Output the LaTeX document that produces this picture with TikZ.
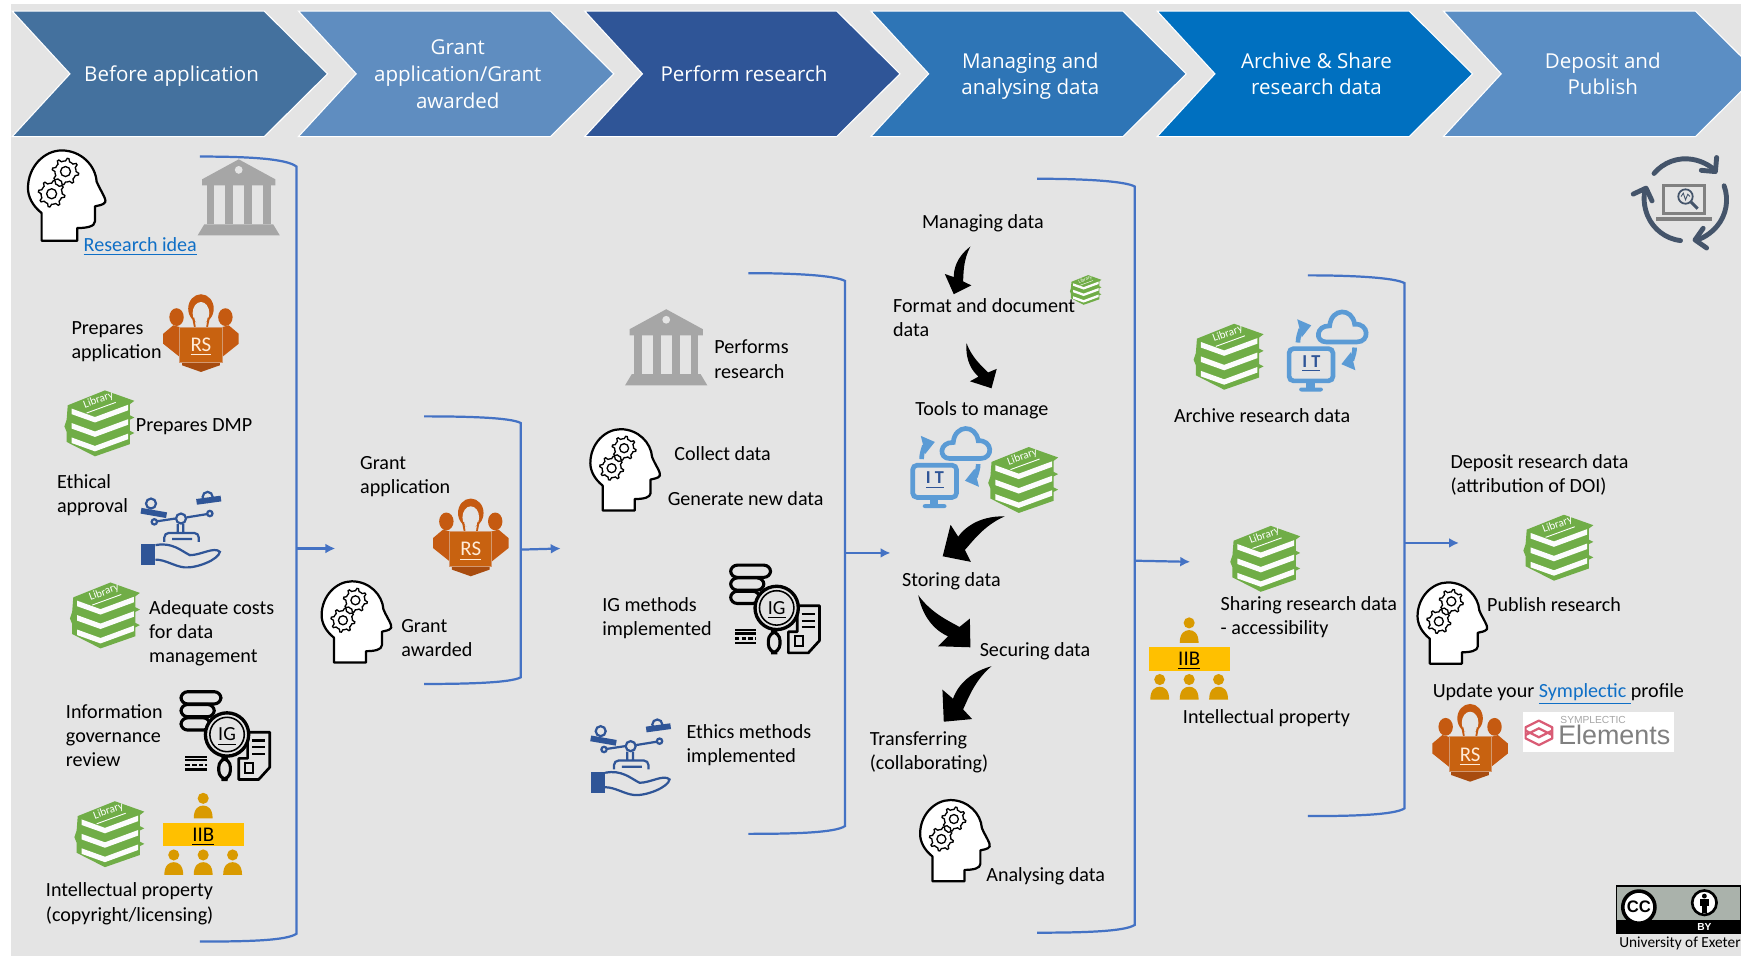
\documentclass[tikz,border=0pt]{standalone}
\usepackage{fontspec}
\setmainfont{Carlito}
\newfontfamily\headfont{Open Sans}
\newfontfamily\logofont{Liberation Sans}
\usetikzlibrary{arrows.meta,calc}

\definecolor{panelgray}{HTML}{E4E4E4}
\definecolor{chevA}{HTML}{44719E}
\definecolor{chevB}{HTML}{5F8DC0}
\definecolor{chevC}{HTML}{2F5597}
\definecolor{chevD}{HTML}{2E75B6}
\definecolor{chevE}{HTML}{0070C0}
\definecolor{chevF}{HTML}{5B8EC4}
\definecolor{flowblue}{HTML}{4472C4}
\definecolor{linkblue}{HTML}{0F6FC6}
\definecolor{bookgreen}{HTML}{70AD47}
\definecolor{rsorange}{HTML}{C55A11}
\definecolor{iibgold}{HTML}{D99A00}
\definecolor{iibbar}{HTML}{FFC000}
\definecolor{itblue}{HTML}{5B9BD5}
\definecolor{navy}{HTML}{2F5597}
\definecolor{loopblue}{HTML}{44546A}
\definecolor{logored}{HTML}{D95C75}
\definecolor{ccgray}{HTML}{AAB2AB}

\newcommand{\swoosh}[2]{
    \path let \p1 = ($(#2)-(#1)$), \n1 = {atan2(\y1, \x1)}, \n2 = {veclen(\x1, \y1)} in
        pic [shift={(#1)}, rotate=\n1, x=\n2, y=-\n2] {swooshshape};
}

\tikzset{
    lbl/.style={right, align=left, inner sep=0pt, font=\fontsize{9.05}{10.9}\selectfont},
    headtext/.style={align=center, text=white, inner sep=0pt, font=\headfont\fontsize{9.25}{12}\selectfont},
    bracket/.style={flowblue, line width=1pt},
    flow/.style={flowblue, line width=1pt, -{Latex[length=4.5pt, width=4.5pt]}},
    pics/swooshshape/.style={code={
        \fill (0, 0) .. controls (.3, .2) and (.55, .16) .. (.68, .11) -- (.68, .3) -- (1, 0)
            -- (.72, -.27) -- (.7, -.09) .. controls (.55, -.05) and (.3, .05) .. (0, 0) -- cycle;
    }},
    pics/headicon/.style={code={
        \draw [line width=1pt, fill=white, line join=round] (-22.5, 40.8) -- (-22.5, 15.9)
            .. controls (-31, 9) and (-34.8, 1) .. (-34.8, -6.6)
            .. controls (-34.8, -26) and (-20, -40.5) .. (-4.5, -40.5)
            .. controls (13, -40.5) and (26, -27) .. (27, -12.6)
            .. controls (30, -5) and (36, 3) .. (34.8, 6)
            .. controls (33, 9) and (28, 9) .. (25.5, 9.9)
            -- (25.5, 23.4) .. controls (25.5, 28) and (18, 29.4) .. (9.6, 29.4) -- (9.6, 40.8) -- cycle;
        \foreach \gx/\gy in {-1/-21.5, -13.5/-1.5} {
            \draw [line width=.6pt, fill=white, shift={(\gx, \gy)}] plot [domain=0:360, samples=49]
                (\x:{9.5+2.5*(sin(8*\x)>0)}) -- cycle;
            \draw [line width=.6pt] (\gx, \gy) circle (4.5);
        }
    }},
    pics/bankicon/.style={code={
        \fill [black!35] (0, -34.5) -- (33, -16.5) -- (33, -11) -- (-33, -11) -- (-33, -16.5) -- cycle;
        \fill [panelgray] (0, -25) circle (3.5);
        \foreach \cx in {-25.5, -8.5, 8.5, 25.5}
            \fill [black!35] (\cx-3.5, -11) rectangle (\cx+3.5, 24);
        \fill [black!35] (-31, 24) -- (31, 24) -- (37, 34) -- (-37, 34) -- cycle;
    }},
    pics/bookicon/.style={code={
        \fill [bookgreen] (-29, -16) -- (4.5, -29.4) -- (31, -20) -- (27, -17) -- (27, -7) -- (31, -5)
            -- (27, -3) -- (27, 7) -- (31, 9) -- (27, 11) -- (27, 19) -- (-4.5, 30) -- (-30, 17)
            -- (-30, 8) -- (-32, 3) -- (-30, -3) -- cycle;
        \foreach \by in {0, 13, 26}
            \fill [white!90!panelgray, shift={(0, \by)}] (-25.5, -13) -- (-4.5, -5.4) -- (25.5, -16.5)
                -- (25.5, -11.5) -- (-4.5, -.5) -- (-25.5, -8) -- cycle;
        \fill [bookgreen] (-25.5, -16) -- (4.5, -28) -- (28, -20) -- (-4.5, -7) -- cycle;
        \node (-text) [transform shape, rotate=20, inner sep=0pt, text=white, font=\fontsize{5}{6}\selectfont]
            at (-.6, -18.6) {\underline{Library}};
    }},
    pics/rsicon/.style={code={
        \foreach \sd in {-1, 1} {
            \fill [rsorange] (\sd*22, -14.4) ellipse (6.5 and 8);
            \fill [rsorange] (\sd*34, .6) -- (\sd*34, 9.6) -- (\sd*19, 21.6) -- (\sd*19, -5.4) -- (\sd*25, -7) -- cycle;
        }
        \fill [rsorange] (0, -22) ellipse (11.5 and 13);
        \fill [panelgray] (0, -18) ellipse (7.5 and 10);
        \fill [rsorange] (-8, -14) -- (-6, -4) -- (-4.5, -4) -- (-6, -14) -- cycle;
        \fill [rsorange] (8, -14) -- (6, -4) -- (4.5, -4) -- (6, -14) -- cycle;
        \fill [rsorange!85!black] (-17, 26) -- (-17, 29) -- (0, 35) -- (17, 29) -- (17, 26) -- cycle;
        \draw [fill=rsorange!95!yellow, draw=rsorange!55!panelgray, line width=.4pt] (-19, -5.4) rectangle (19, 26);
        \node (-text) [inner sep=0pt, text=white!85!orange, font=\fontsize{9.4}{10}\selectfont] at (0, 12.5) {\underline{RS}};
    }},
    pics/scalesicon/.style={code={
        \draw [navy, line width=2.6pt] (-36, -16) -- (-13, -12);
        \draw [navy, line width=2.6pt] (14, -24) -- (36, -27);
        \draw [navy, line width=1pt] (-27, -22.5) circle (4.5) (24, -28.5) circle (4.5) (0, -9) circle (4.5);
        \draw [navy, line width=1pt] (-24, -6) circle (2.4) (26, -13.5) circle (2.4);
        \draw [navy, line width=1pt] (-21.6, -6.5) -- (-5, -9) (5, -10) -- (23.6, -13);
        \draw [navy, line width=1pt, rounded corners=2] (-3, -4) -- (-3, 3) (2, -4) -- (2, 3)
            (-15, 12) -- (-15, 4) -- (16, 4) -- (16, 12) (-8, 9.5) -- (10, 9.5);
        \fill [navy] (-36, 14) rectangle (-23, 33);
        \draw [navy, line width=1pt] (-23, 15) .. controls (-8, 12) and (0, 20) .. (8, 24)
            .. controls (18, 24) and (30, 16) .. (35, 21) .. controls (34, 28) and (14, 36) .. (3, 35)
            .. controls (-6, 34) and (-14, 28) .. (-23, 28);
    }},
    pics/igicon/.style={code={
        \draw [line width=1.2pt, fill=panelgray, line join=round] (12, 39) -- (12, 20) -- (20, 20) -- (20, -3.5)
            -- (40, -3.5) -- (40, 28) -- (30, 39) -- cycle;
        \draw [line width=1pt] (24, 4) -- (36, 4) (24, 10) -- (36, 10) (24, 16) -- (36, 16);
        \draw [line width=1pt] (18, 24) rectangle (25, 33);
        \foreach \dy/\dw in {-34.5/-4, -23/-10, -11/-14}
            \draw [line width=1.4pt, rounded corners=3, fill=panelgray] (-40, \dy-5.5) rectangle (\dw, \dy+5.5);
        \draw [line width=1.4pt, fill=panelgray, rounded corners=4] (-6, 20) rectangle (4.5, 39);
        \draw [line width=1.5pt, fill=panelgray] (1.5, -1.5) circle (19.5);
        \draw [line width=.7pt] (1.5, -1.5) circle (15.5);
        \draw [line width=1pt] (-36, 18.6) -- (-17, 18.6) (-36, 21.6) -- (-17, 21.6) (-36, 30) -- (-17, 30);
        \draw [line width=1pt, dash pattern=on 2pt off 1pt] (-36, 26) -- (-17, 26);
        \node (-text) [inner sep=0pt, font=\fontsize{9}{10}\selectfont] at (1.5, .5) {\underline{IG}};
    }},
    pics/iibicon/.style={code={
        \foreach \px/\py in {0/-51, -26.5/0, 0/0, 26.5/0} {
            \fill [iibgold, shift={(\px, \py)}] (0, 18) circle (5);
            \fill [iibgold, shift={(\px, \py)}] (-8.5, 36) .. controls (-8.5, 27) and (-4, 24.5) .. (0, 24.5)
                .. controls (4, 24.5) and (8.5, 27) .. (8.5, 36) -- cycle;
        }
        \fill [iibbar] (-36.5, -11) rectangle (36.5, 10);
        \node (-text) [inner sep=0pt, font=\fontsize{9.4}{10}\selectfont] at (0, 1.5) {\underline{IIB}};
    }},
    pics/iticon/.style={code={
        \draw [itblue, line width=2.1pt, rounded corners=2] (-35, -2) rectangle (4.5, 27);
        \fill [itblue] (-19.5, 28) rectangle (-12, 33);
        \fill [itblue, rounded corners=1] (-26, 33) rectangle (-4.5, 36.6);
        \node (-text) [inner sep=0pt, text=navy, font=\bfseries\fontsize{8.2}{9}\selectfont] at (-15, 11.5) {\underline{I T}};
        \draw [itblue, line width=2.1pt] (-1.5, -8) .. controls (-12, -8) and (-11, -23) .. (1.5, -22.5)
            .. controls (3, -39) and (22, -39) .. (24, -24) .. controls (37, -25) and (38, -8) .. (26, -8) -- cycle;
        \draw [itblue, line width=2.1pt, -{Triangle[length=5.5pt, width=8pt]}] (-27, -7.5) .. controls (-27, -15) and (-23, -21) .. (-15, -23);
        \draw [itblue, line width=2.1pt, -{Triangle[length=5.5pt, width=8pt]}] (24, -3) .. controls (24, 4) and (20, 10) .. (12, 12);
    }},
}

\begin{document}
\begin{tikzpicture}[x=.5pt, y=-.5pt]
    \useasboundingbox (0, 0) rectangle (1568, 861);
    \fill [panelgray] (10, 4) rectangle (1568, 861);

    \foreach \i/\c/\t in {0/chevA/{Before application}, 1/chevB/{Grant\\application/Grant\\awarded},
        2/chevC/{Perform research}, 3/chevD/{Managing and\\analysing data},
        4/chevE/{Archive \& Share\\research data}, 5/chevF/{Deposit and\\Publish}} {
        \pgfmathsetmacro{\cx}{11+257.8*\i}
        \draw [fill=\c, draw=white, line width=.5pt, shift={(\cx, 0)}] (0, 10) -- (227, 10) -- (284, 66.5) -- (227, 123)
            -- (0, 123) -- (52, 66.5) -- cycle;
        \node (chev\i) [headtext] at (\cx+143.5, 68.5) {\strut\t\strut};
    }

    \draw [bracket] (180, 141) .. controls (225, 141) and (258, 143) .. (267, 150) -- (267, 841)
        .. controls (258, 847) and (225, 848) .. (180, 848);
    \draw [bracket] (382, 375) .. controls (420, 375) and (460, 376) .. (469, 381) -- (469, 610)
        .. controls (460, 615) and (420, 616) .. (382, 616);
    \draw [bracket] (674, 246) .. controls (715, 246) and (752, 248) .. (761, 253) -- (761, 744)
        .. controls (752, 750) and (715, 751) .. (674, 751);
    \draw [bracket] (934, 161) .. controls (975, 161) and (1013, 163) .. (1022, 168) -- (1022, 833)
        .. controls (1013, 839) and (975, 840) .. (934, 840);
    \draw [bracket] (1178, 248) .. controls (1218, 248) and (1256, 250) .. (1265, 255) -- (1265, 728)
        .. controls (1256, 734) and (1218, 735) .. (1178, 735);

    \coordinate (out1) at (267, 494);
    \coordinate (in2) at (302, 494);
    \coordinate (out2) at (469, 495);
    \coordinate (in3) at (505, 494);
    \coordinate (out3) at (761, 498);
    \coordinate (in4) at (802, 498);
    \coordinate (out4) at (1022, 505);
    \coordinate (in5) at (1072, 506);
    \coordinate (out5) at (1265, 489);
    \coordinate (in6) at (1314, 489);
    \draw [flow] (out1) -- (in2);
    \draw [flow] (out2) -- (in3);
    \draw [flow] (out3) -- (in4);
    \draw [flow] (out4) -- (in5);
    \draw [flow] (out5) -- (in6);

    \pic (headA) at (60, 176) {headicon};
    \pic [scale=.9] (headB) at (321, 560) {headicon};
    \pic [scale=.9] (headC) at (563, 423) {headicon};
    \pic [scale=.9] (headD) at (860, 757) {headicon};
    \pic [scale=.9] (headE) at (1308, 561) {headicon};

    \pic (bankA) at (215, 178) {bankicon};
    \pic (bankB) at (600, 313) {bankicon};

    \pic (bookA) at (90, 381) {bookicon};
    \pic (bookB) at (95, 554) {bookicon};
    \pic (bookC) at (99, 751) {bookicon};
    \pic [scale=.45] (bookD) at (978, 261) {bookicon};
    \pic (bookE) at (922, 432) {bookicon};
    \pic (bookF) at (1107, 321) {bookicon};
    \pic (bookG) at (1140, 503) {bookicon};
    \pic (bookH) at (1404, 493) {bookicon};

    \pic (rsA) at (181, 300) {rsicon};
    \pic (rsB) at (424, 484) {rsicon};
    \pic (rsC) at (1324, 669) {rsicon};

    \pic (scalesA) at (163, 476) {scalesicon};
    \pic (scalesB) at (568, 681) {scalesicon};

    \pic (igA) at (203, 663) {igicon};
    \pic (igB) at (698, 549) {igicon};

    \pic (iibA) at (183, 752) {iibicon};
    \pic (iibB) at (1071, 594) {iibicon};

    \pic (itA) at (857, 421) {iticon};
    \pic (itB) at (1196, 316) {iticon};

    \node (idea) [lbl, text=linkblue] at (75, 222) {\underline{Research idea}};
    \node (prepapp) [lbl] at (64, 308) {Prepares\\application};
    \node (prepdmp) [lbl] at (122, 384.5) {Prepares DMP};
    \node (ethical) [lbl] at (51, 446) {Ethical\\approval};
    \node (costs) [lbl] at (134, 570.5) {Adequate costs\\for data\\management};
    \node (govern) [lbl] at (59, 662.5) {Information\\governance\\review};
    \node (ipA) [lbl] at (41, 814) {Intellectual property\\(copyright/licensing)};
    \node (grantapp) [lbl] at (324, 429) {Grant\\application};
    \node (grantaw) [lbl] at (361, 574.7) {Grant\\awarded};
    \node (performs) [lbl] at (643, 323.5) {Performs\\research};
    \node (collect) [lbl] at (607, 408.5) {Collect data};
    \node (generate) [lbl] at (601, 449) {Generate new data};
    \node (igmeth) [lbl] at (542, 557) {IG methods\\implemented};
    \node (ethmeth) [lbl] at (618, 671) {Ethics methods\\implemented};
    \node (managing) [lbl] at (830, 201) {Managing data};
    \node (format) [lbl] at (804, 286) {Format and document\\data};
    \node (tools) [lbl] at (824, 369.5) {Tools to manage};
    \node (storing) [lbl] at (812, 523.5) {Storing data};
    \node (securing) [lbl] at (882, 586.5) {Securing data};
    \node (transfer) [lbl] at (783, 677.5) {Transferring\\(collaborating)};
    \node (analysing) [lbl] at (888, 789) {Analysing data};
    \node (archive) [lbl] at (1057, 374) {Archive research data};
    \node (sharing) [lbl] at (1099, 555.5) {Sharing research data\\- accessibility};
    \node (ipB) [lbl] at (1065, 647) {Intellectual property};
    \node (deposit) [lbl] at (1306, 428) {Deposit research data\\(attribution of DOI)};
    \node (publish) [lbl] at (1339, 544.5) {Publish research};
    \node (update) [lbl] at (1290, 625) {Update your {\color{linkblue}\underline{Symplectic }}profile};

    \coordinate (m1) at (874, 222);
    \coordinate (m2) at (859, 265);
    \coordinate (f1) at (870.5, 309);
    \coordinate (f2) at (893, 349.7);
    \coordinate (t1) at (905, 465);
    \coordinate (t2) at (849, 501);
    \coordinate (s1) at (827, 536);
    \coordinate (s2) at (874, 583);
    \coordinate (c1) at (893, 600);
    \coordinate (c2) at (850, 650);
    \swoosh{m1}{m2}
    \swoosh{f1}{f2}
    \swoosh{t1}{t2}
    \swoosh{s1}{s2}
    \swoosh{c1}{c2}

    \foreach \a/\b in {-140/-40, -20/80, 97/200}
        \draw [loopblue, line width=2.2pt, line cap=round, -{Straight Barb[length=4.5pt, width=9pt, round]}]
            (1518, 180) ++(\a:37) arc [start angle=\a, end angle=\b, radius=37];
    \draw [black!50, line width=1.5pt] (1498, 167) rectangle (1535, 192);
    \fill [black!50] (1491, 195) rectangle (1542, 199);
    \draw [loopblue, line width=.8pt] (1518, 177) circle (6.5);
    \draw [loopblue, line width=.4pt] (1514, 177) -- (1516, 174) -- (1518, 180) -- (1520, 175) -- (1522, 177);
    \draw [loopblue, line width=1.3pt] (1523, 182) -- (1529, 188);

    \fill [white] (1372, 641) rectangle (1508, 677);
    \begin{scope}[shift={(1386, 660)}]
        \draw [logored, line width=1pt, line join=round] (0, -11) -- (12, -5) -- (12, 5) -- (0, 11) -- (-12, 5) -- (-12, -5) -- cycle;
        \draw [logored, line width=1pt] (-12, -2) -- (0, 4) -- (12, -2) (-12, 2) -- (0, -4) -- (12, 2);
    \end{scope}
    \node (symp) [right, inner sep=0pt, text=black!35, font=\logofont\fontsize{4.6}{5}\selectfont] at (1405, 648) {SYMPLECTIC};
    \node (elem) [right, inner sep=0pt, text=black!50, font=\logofont\fontsize{12.1}{13}\selectfont] at (1403, 662) {Elements};

    \fill [ccgray] (1455.5, 798) rectangle (1568, 829);
    \fill (1455.5, 829) rectangle (1568, 841);
    \draw [line width=.5pt] (1455.5, 798) rectangle (1568, 841);
    \draw [line width=1.6pt, fill=white] (1476, 817) circle (14.5);
    \node (cc) [inner sep=0pt, font=\logofont\bfseries\fontsize{7.5}{9}\selectfont] at (1476, 817) {CC};
    \draw [line width=1.2pt, fill=white] (1535, 813) circle (11);
    \fill (1535, 807) circle (2.2);
    \fill (1531, 810) rectangle (1539, 816);
    \fill (1533, 816) rectangle (1537, 822);
    \node (by) [inner sep=0pt, text=white, font=\logofont\bfseries\fontsize{4.6}{5}\selectfont] at (1535, 835) {BY};
    \node (exeter) [lbl, font=\fontsize{6.9}{8}\selectfont] at (1458, 849.5) {University of Exeter};
\end{tikzpicture}
\end{document}
